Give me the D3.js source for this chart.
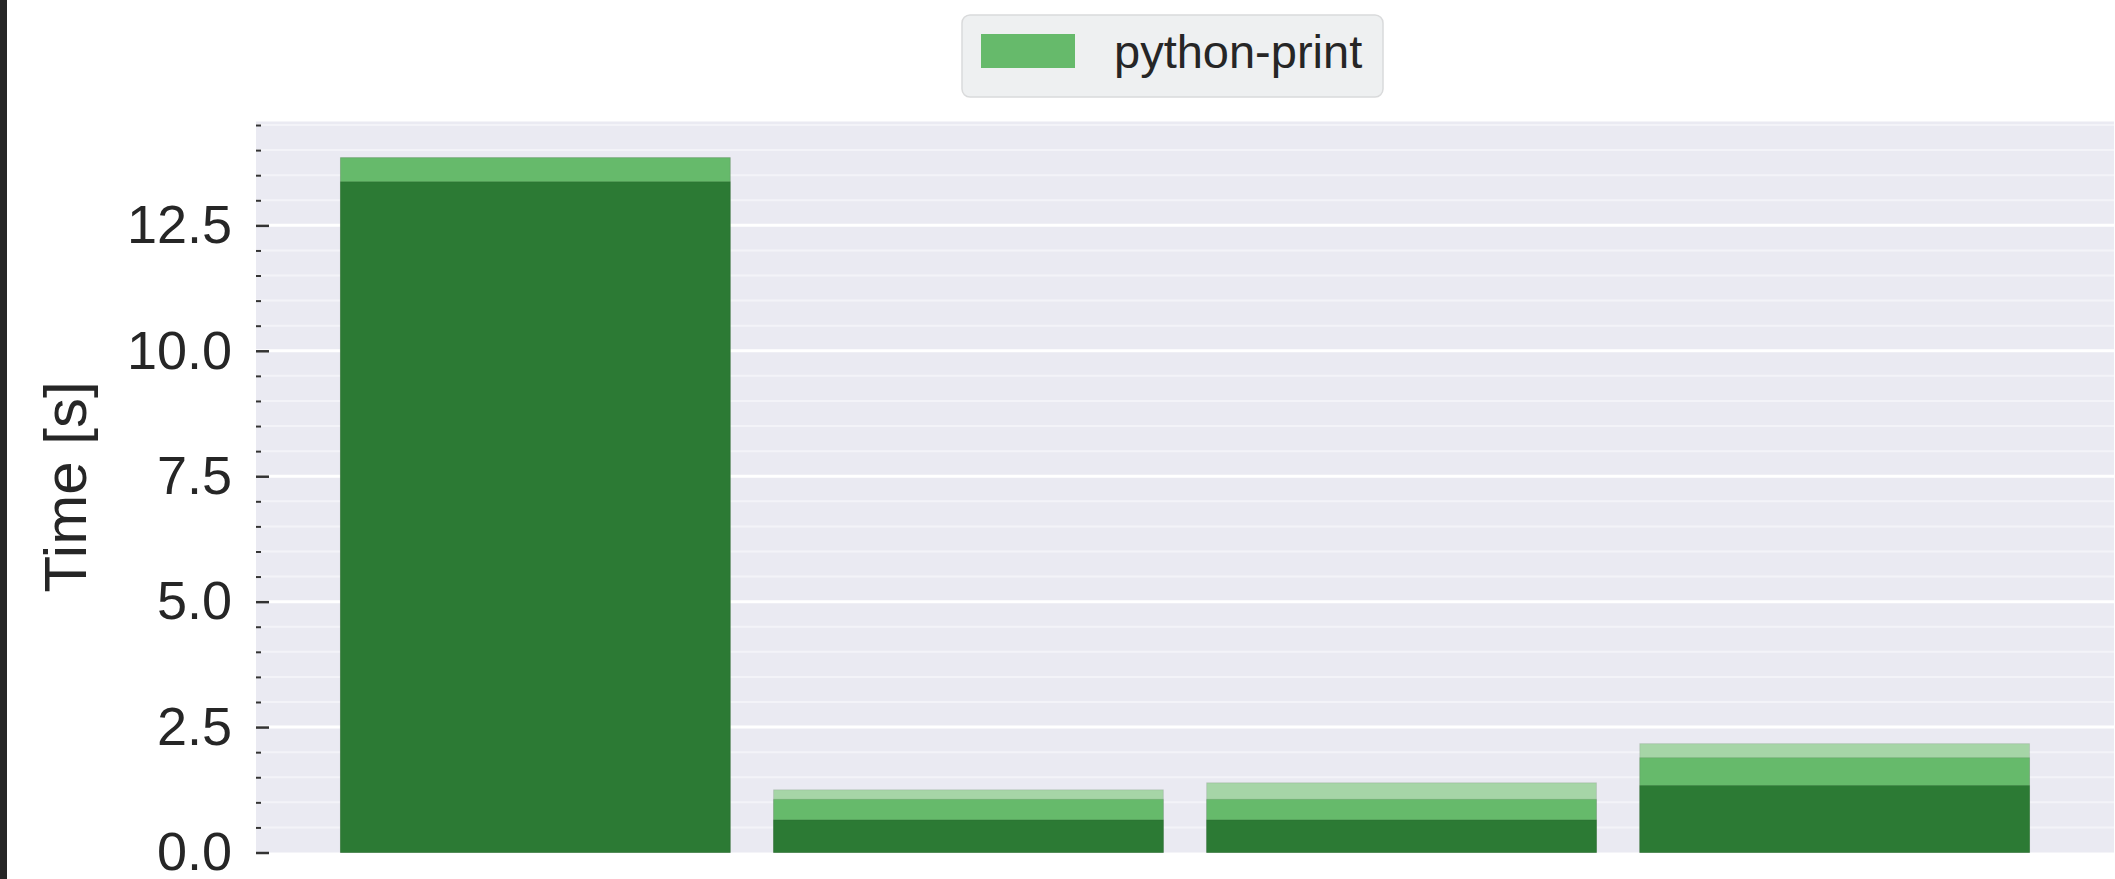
<!DOCTYPE html>
<html>
<head>
<meta charset="utf-8">
<script src="https://cdn.jsdelivr.net/npm/d3@7/dist/d3.min.js"></script>
<style>
  html, body { margin: 0; padding: 0; background: #ffffff; }
  svg { display: block; }
  text { font-family: "Liberation Sans", Arial, sans-serif; fill: #262626; }
</style>
</head>
<body>
<svg id="chart" width="2115" height="879"></svg>
<script>
// Run positions along the x axis (one bar per run)
const positions = [0, 1, 2, 3];

// Timings in seconds for each run, drawn as overlaid bars from the base
const upper  = [13.85, 1.25, 1.39, 2.17];   // lightest band
const middle = [13.85, 1.06, 1.06, 1.89];   // python-print
const lower  = [13.37, 0.65, 0.65, 1.335];  // darkest band

const majorTicks = [0, 2.5, 5, 7.5, 10, 12.5];
const minorTicks = [0.5, 1, 1.5, 2, 3, 3.5, 4, 4.5, 5.5, 6, 6.5, 7, 8, 8.5, 9, 9.5,
                    10.5, 11, 11.5, 12, 13, 13.5, 14, 14.5];

const legendLabel = "python-print";
const yLabel = "Time [s]";

const colors = { upper: "#a6d5a7", middle: "#66ba6b", lower: "#2c7a34" };

const svg = d3.select("#chart");
const W = 2115, H = 879;
const plot = { left: 256, right: 2114, top: 121.5, bottom: 852.5 };

const x = d3.scaleLinear().domain([-0.645, 3.645]).range([plot.left, plot.right]);
const y = d3.scaleLinear().domain([0, 14.57]).range([plot.bottom, plot.top]);
const barWidth = 0.9;

// Left window edge strip
svg.append("rect").attr("x", 0).attr("y", 0).attr("width", 7).attr("height", H).attr("fill", "#262626");

// Plot background
svg.append("rect")
  .attr("x", plot.left).attr("y", plot.top)
  .attr("width", plot.right - plot.left).attr("height", plot.bottom - plot.top)
  .attr("fill", "#eaeaf2");

// Grid lines
const grid = svg.append("g");
grid.selectAll("line.minor").data(minorTicks).join("line")
  .attr("class", "minor")
  .attr("x1", plot.left).attr("x2", plot.right)
  .attr("y1", d => y(d)).attr("y2", d => y(d))
  .attr("stroke", "#f3f3f8").attr("stroke-width", 2);
grid.selectAll("line.major").data(majorTicks.filter(d => d > 0)).join("line")
  .attr("class", "major")
  .attr("x1", plot.left).attr("x2", plot.right)
  .attr("y1", d => y(d)).attr("y2", d => y(d))
  .attr("stroke", "#ffffff").attr("stroke-width", 3);

// Overlaid bars: lightest drawn first, darkest on top
const layers = [
  { key: "upper", values: upper },
  { key: "middle", values: middle },
  { key: "lower", values: lower }
];
const bars = svg.append("g");
layers.forEach(layer => {
  bars.append("g").selectAll("rect")
    .data(positions.map((p, i) => ({ p, v: layer.values[i] })))
    .join("rect")
    .attr("x", d => x(d.p - barWidth / 2))
    .attr("width", d => x(d.p + barWidth / 2) - x(d.p - barWidth / 2))
    .attr("y", d => y(d.v))
    .attr("height", d => y(0) - y(d.v))
    .attr("fill", colors[layer.key])
    .attr("stroke", "rgba(60,60,60,0.12)")
    .attr("stroke-width", 1);
});

// Y axis with inward ticks
const yAxisMajor = d3.axisRight(y).tickValues(majorTicks).tickSize(13)
  .tickFormat(d3.format(".1f")).tickPadding(-37);
const gMajor = svg.append("g").attr("transform", `translate(${plot.left},0)`).call(yAxisMajor);
gMajor.select(".domain").remove();
gMajor.selectAll(".tick line").attr("stroke", "#333333").attr("stroke-width", 2.5);
gMajor.selectAll(".tick text")
  .attr("x", -24).attr("text-anchor", "end")
  .attr("font-size", 54).attr("fill", "#262626")
  .attr("font-family", "Liberation Sans, Arial, sans-serif");

const yAxisMinor = d3.axisRight(y).tickValues(minorTicks).tickSize(5).tickFormat("");
const gMinor = svg.append("g").attr("transform", `translate(${plot.left},0)`).call(yAxisMinor);
gMinor.select(".domain").remove();
gMinor.selectAll(".tick line").attr("stroke", "#333333").attr("stroke-width", 2);

// Y axis title
svg.append("text")
  .attr("transform", `translate(86,${(plot.top + plot.bottom) / 2}) rotate(-90)`)
  .attr("text-anchor", "middle")
  .attr("font-size", 60)
  .text(yLabel);

// Legend
const legend = svg.append("g");
legend.append("rect")
  .attr("x", 962).attr("y", 15).attr("width", 421).attr("height", 82)
  .attr("rx", 8).attr("ry", 8)
  .attr("fill", "#eef0f1").attr("stroke", "#d9dadb").attr("stroke-width", 1.5);
legend.append("rect")
  .attr("x", 981).attr("y", 34).attr("width", 94).attr("height", 34)
  .attr("fill", colors.middle);
legend.append("text")
  .attr("x", 1114).attr("y", 68)
  .attr("font-size", 47)
  .text(legendLabel);
</script>
</body>
</html>
